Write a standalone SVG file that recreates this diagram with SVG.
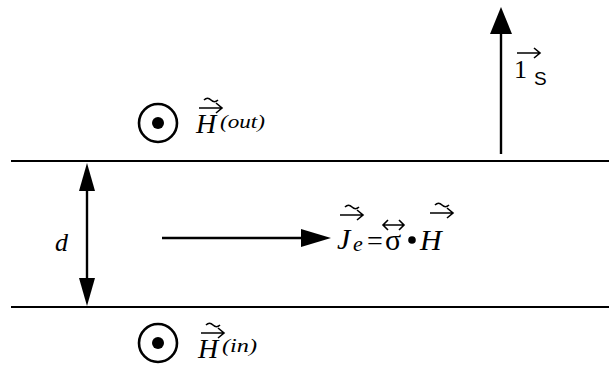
<svg xmlns="http://www.w3.org/2000/svg" width="609" height="369" viewBox="0 0 609 369">
<style>
.ln{stroke:#000;stroke-width:2;fill:none}
.ar{stroke:#000;stroke-width:2.4;fill:none}
.t{font-family:"Liberation Serif",serif;font-style:italic;fill:#000}
.r{font-family:"Liberation Serif",serif;fill:#000}
.ov{stroke:#000;stroke-width:1.6;fill:none}
</style>
<defs>
<g id="vecarrow"><path class="ov" d="M0 0 H23 M17 -5 L23 0 L17 5"/></g>
<path id="tilde" class="ov" d="M0 0 q3.5 -3.5 7 0 t7 0"/>
</defs>
<rect width="609" height="369" fill="#fff"/>
<g id="plates">
<line class="ln" x1="11" y1="161" x2="609" y2="161"/>
<line class="ln" x1="11" y1="307" x2="609" y2="307"/>
</g>
<g id="connectors">
<line class="ar" x1="87" y1="185" x2="87" y2="285"/>
<polygon points="87,163 79,191 95,191"/>
<polygon points="87,306 79,278 95,278"/>
<line class="ar" x1="162" y1="238" x2="305" y2="238"/>
<polygon points="331,238 301,229 301,247"/>
<line class="ar" x1="501" y1="30" x2="501" y2="154"/>
<polygon points="501,7 490,34 512,34"/>
</g>
<g id="d-label"><text class="t" x="55" y="251" font-size="26">d</text></g>
<g id="h-out">
<circle cx="158" cy="123" r="19" stroke="#000" stroke-width="2.6" fill="none"/>
<circle cx="158" cy="123" r="6"/>
<text class="t" x="196" y="133" font-size="28">H</text>
<text class="t" x="220" y="128" font-size="18" textLength="45" lengthAdjust="spacingAndGlyphs">(out)</text>
<use href="#vecarrow" x="199" y="108"/>
<use href="#tilde" x="204" y="100"/>
</g>
<g id="h-in">
<circle cx="158" cy="343" r="19" stroke="#000" stroke-width="2.6" fill="none"/>
<circle cx="158" cy="343" r="6"/>
<text class="t" x="198" y="358" font-size="28">H</text>
<text class="t" x="222" y="352" font-size="18" textLength="35" lengthAdjust="spacingAndGlyphs">(in)</text>
<use href="#vecarrow" x="201" y="333"/>
<use href="#tilde" x="206" y="325"/>
</g>
<g id="je-label">
<text class="t" x="337" y="249" font-size="30">J</text>
<text class="t" x="353" y="251" font-size="22">e</text>
<text class="r" x="367" y="250" font-size="28">=</text>
<text class="r" x="385" y="250" font-size="30">σ</text>
<circle cx="412" cy="240" r="3.8"/>
<use href="#vecarrow" x="340" y="215"/>
<use href="#tilde" x="345" y="207"/>
<path class="ov" d="M383 225 H404 M388 220 L383 225 L388 230 M399 220 L404 225 L399 230"/>
<text class="t" x="420" y="250" font-size="30">H</text>
<use href="#vecarrow" x="430" y="213"/>
<use href="#tilde" x="435" y="205"/>
</g>
<g id="is-label">
<text class="r" x="514" y="78" font-size="26">1</text>
<text x="534" y="85" font-size="19" font-family="Liberation Sans,sans-serif">S</text>
<use href="#vecarrow" x="517" y="53"/>
</g>
</svg>
